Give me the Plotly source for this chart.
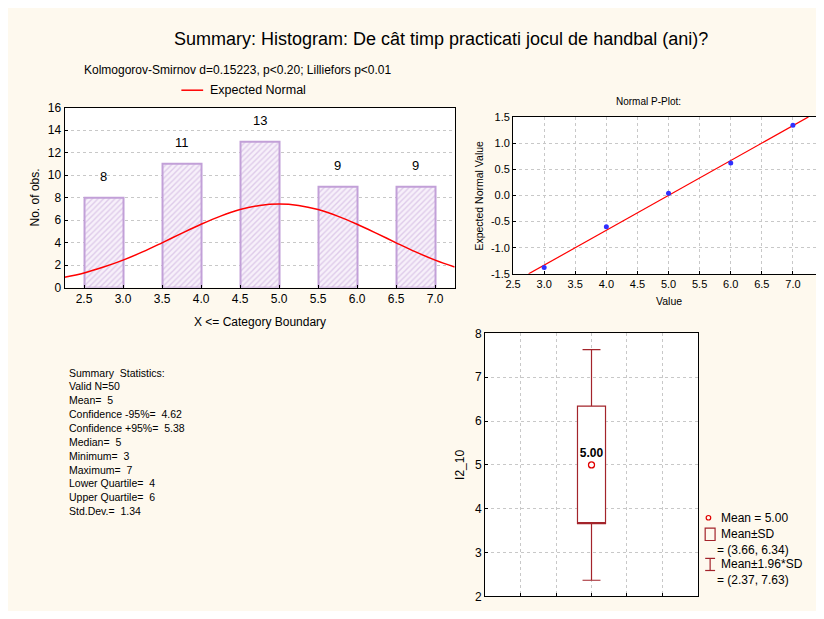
import plotly.graph_objects as go

# ---------------- data ----------------
bar_centers = [2.75, 3.75, 4.75, 5.75, 6.75]
bar_counts = [8, 11, 13, 9, 9]
hist_ticks = [2.5, 3.0, 3.5, 4.0, 4.5, 5.0, 5.5, 6.0, 6.5, 7.0]

curve_x = [2.25, 2.5, 2.75, 3.0, 3.25, 3.5, 3.75, 4.0, 4.25, 4.5, 4.75, 5.0,
           5.25, 5.5, 5.75, 6.0, 6.25, 6.5, 6.75, 7.0, 7.25]
curve_y = [0.91, 1.30, 1.82, 2.44, 3.17, 3.98, 4.82, 5.63, 6.36, 6.94, 7.31, 7.44,
           7.31, 6.94, 6.36, 5.63, 4.82, 3.98, 3.17, 2.44, 1.82]

pp_values = [3.0, 4.0, 5.0, 6.0, 7.0]
pp_expected = [-1.38, -0.60, 0.04, 0.62, 1.34]
pp_line_x = [2.75, 7.25]
pp_line_y = [-1.5, 1.5]
pp_xticks = [2.5, 3.0, 3.5, 4.0, 4.5, 5.0, 5.5, 6.0, 6.5, 7.0, 7.5]
pp_yticks = [-1.5, -1.0, -0.5, 0.0, 0.5, 1.0, 1.5]

box_mean = 5.00
box_sd_lo, box_sd_hi = 3.66, 6.34
box_ci_lo, box_ci_hi = 2.37, 7.63

stat_labels = ["Summary  Statistics:", "Valid N=50", "Mean=  5", "Confidence -95%=  4.62",
               "Confidence +95%=  5.38", "Median=  5", "Minimum=  3", "Maximum=  7",
               "Lower Quartile=  4", "Upper Quartile=  6", "Std.Dev.=  1.34"]

title_text = "Summary: Histogram: De cât timp practicati jocul de handbal (ani)?"
ks_text = "Kolmogorov-Smirnov d=0.15223, p<0.20; Lilliefors p<0.01"

# ---------------- layout helpers ----------------
# the page body keeps its default 8px margin; the figure runs to the right edge
OX, OY = 8, 8
W, H = 816, 603
FONT = "Liberation Sans, Arial, sans-serif"
CREAM = "#FEF9EE"
GRID = "#C8C8C8"
BOXRED = "#A3242B"


def px(x):
    return (x - OX) / W


def py(y):
    return 1 - (y - OY) / H


fig = go.Figure()

# Histogram bars
fig.add_trace(go.Bar(
    x=bar_centers, y=bar_counts, width=0.5, xaxis="x", yaxis="y",
    marker=dict(color="#F7F0FA",
                line=dict(color="#C2A0D8", width=2),
                pattern=dict(shape="/", fgcolor="#C6A6DA", bgcolor="#F7F0FA",
                             size=4, solidity=0.35)),
    showlegend=False, hoverinfo="skip"))

# Expected normal curve
fig.add_trace(go.Scatter(
    x=curve_x, y=curve_y, mode="lines", line=dict(color="#FF0000", width=1.5, shape="spline"),
    xaxis="x", yaxis="y", showlegend=False, hoverinfo="skip"))

# P-plot line and points
fig.add_trace(go.Scatter(
    x=pp_line_x, y=pp_line_y, mode="lines", line=dict(color="#FF0000", width=1.2),
    xaxis="x2", yaxis="y2", showlegend=False, hoverinfo="skip"))
fig.add_trace(go.Scatter(
    x=pp_values, y=pp_expected, mode="markers",
    marker=dict(color="#3030FF", size=5, symbol="circle"),
    xaxis="x2", yaxis="y2", showlegend=False, hoverinfo="skip"))

# Box plot (mean ± SD box, mean ± 1.96 SD whiskers)
fig.add_trace(go.Box(
    x=[3], q1=[box_sd_lo], median=[box_sd_lo], q3=[box_sd_hi],
    lowerfence=[box_ci_lo], upperfence=[box_ci_hi],
    width=0.79, whiskerwidth=0.64, fillcolor="white",
    line=dict(color=BOXRED, width=1.2), xaxis="x3", yaxis="y3",
    showlegend=False, hoverinfo="skip", boxpoints=False))
fig.add_trace(go.Scatter(
    x=[3], y=[box_mean], mode="markers+text",
    marker=dict(symbol="circle-open", color="#E00000", size=6, line=dict(width=1.3)),
    text=[f"<b>{box_mean:.2f}</b>"], textposition="top center",
    textfont=dict(family=FONT, size=12, color="#000000"),
    xaxis="x3", yaxis="y3", showlegend=False, hoverinfo="skip"))

axis_common = dict(showline=True, linecolor="#000000", linewidth=1,
                   ticks="inside", ticklen=3, tickcolor="#000000",
                   zeroline=False)

annotations = []
shapes = []


def ann(x, y, text, size, xanchor="center", angle=0):
    annotations.append(dict(x=px(x), y=py(y), xref="paper", yref="paper", text=text,
                            xanchor=xanchor, yanchor="middle", textangle=angle,
                            showarrow=False, font=dict(family=FONT, size=size, color="#000")))


# bar value labels
for xc, c in zip(bar_centers, bar_counts):
    annotations.append(dict(x=xc, y=c, xref="x", yref="y", text=str(c), showarrow=False,
                            xanchor="center", yanchor="middle",
                            yshift=21, font=dict(family=FONT, size=13, color="#000")))

# Title, subtitle, curve legend
ann(437, 33, title_text, 18)
ann(75, 64, ks_text, 12, xanchor="left")
shapes.append(dict(type="line", xref="paper", yref="paper", x0=px(175), x1=px(197),
                   y0=py(85), y1=py(85), line=dict(color="#FF0000", width=1.5)))
ann(202, 85, "Expected Normal", 12.5, xanchor="left")

# Axis titles
ann(27, 195, "No. of obs.", 12, angle=-90)
ann(254, 322, "X <= Category Boundary", 12)
ann(647, 97, "Normal P-Plot:", 10)
ann(475.5, 193, "Expected Normal Value", 10.5, angle=-90)
ann(667, 301, "Value", 10.5)
ann(457, 469, "I2_10", 12, angle=-90)

# Summary statistics block
for i, line in enumerate(stat_labels):
    ann(59, 374 + i * 14.2, line.replace("  ", "\u00a0\u00a0"), 10.5, xanchor="left")

# Box plot legend
shapes.append(dict(type="circle", xref="paper", yref="paper", x0=px(705), x1=px(709.6),
                   y0=py(520.4), y1=py(525), line=dict(color="#E00000", width=1.2)))
shapes.append(dict(type="rect", xref="paper", yref="paper", x0=px(704), x1=px(714),
                   y0=py(533.3), y1=py(546), line=dict(color=BOXRED, width=1.2)))
shapes.append(dict(type="line", xref="paper", yref="paper", x0=px(709), x1=px(709),
                   y0=py(564.3), y1=py(576.7), line=dict(color=BOXRED, width=1.2)))
shapes.append(dict(type="line", xref="paper", yref="paper", x0=px(704), x1=px(714),
                   y0=py(564.3), y1=py(564.3), line=dict(color=BOXRED, width=1.2)))
shapes.append(dict(type="line", xref="paper", yref="paper", x0=px(704), x1=px(714),
                   y0=py(576.7), y1=py(576.7), line=dict(color=BOXRED, width=1.2)))
legend_rows = [
    (718, 522.7, f"Mean = {box_mean:.2f}"),
    (718, 539.5, "Mean±SD"),
    (714, 555.7, f"= ({box_sd_lo:.2f}, {box_sd_hi:.2f})"),
    (718, 570.0, "Mean±1.96*SD"),
    (714, 586.3, f"= ({box_ci_lo:.2f}, {box_ci_hi:.2f})"),
]
for lx, ly, t in legend_rows:
    ann(lx, ly, t, 12, xanchor="left")

fig.update_layout(
    width=W, height=H, margin=dict(l=0, r=0, t=0, b=0),
    paper_bgcolor=CREAM, plot_bgcolor="white",
    font=dict(family=FONT, size=12, color="#000"),
    showlegend=False, bargap=0,
    annotations=annotations, shapes=shapes,
    xaxis=dict(domain=[px(57), px(451)], anchor="y", range=[2.25, 7.25], mirror=True,
               tickvals=hist_ticks, ticktext=[f"{v:.1f}" for v in hist_ticks],
               showgrid=False, tickfont=dict(size=12), **axis_common),
    yaxis=dict(domain=[py(287), py(103)], anchor="x", range=[0, 16], mirror=True,
               tickvals=list(range(0, 17, 2)), showgrid=True, gridcolor=GRID,
               griddash="dot", gridwidth=1, tickfont=dict(size=12), **axis_common),
    xaxis2=dict(domain=[px(510), 1.0], anchor="y2", range=[2.5, 7.5], mirror=True,
                tickvals=pp_xticks, ticktext=[f"{v:.1f}" for v in pp_xticks],
                showgrid=True, gridcolor=GRID, griddash="dot",
                tickfont=dict(size=11), **axis_common),
    yaxis2=dict(domain=[py(273), py(112.3)], anchor="x2", range=[-1.5, 1.5], mirror=False,
                tickvals=pp_yticks, ticktext=[f"{v:.1f}" for v in pp_yticks],
                showgrid=True, gridcolor=GRID, griddash="dot",
                tickfont=dict(size=11), **axis_common),
    xaxis3=dict(domain=[px(481.7), px(696.7)], anchor="y3", range=[0, 6], mirror=True,
                tickvals=[1, 2, 3, 4, 5], showticklabels=False,
                showgrid=True, gridcolor=GRID, griddash="dot", **axis_common),
    yaxis3=dict(domain=[py(603.3), py(334)], anchor="x3", range=[2, 8], mirror=True,
                tickvals=[2, 3, 4, 5, 6, 7, 8], showgrid=True, gridcolor=GRID,
                griddash="dot", tickfont=dict(size=12), **axis_common),
)

fig.write_html("out.html", config={"displayModeBar": False})
